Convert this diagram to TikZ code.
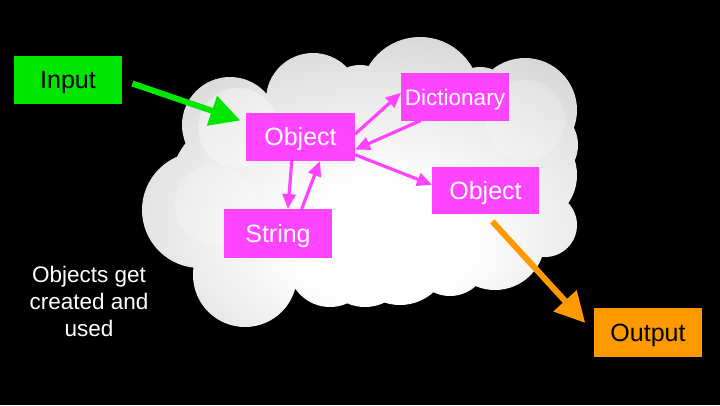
\documentclass[tikz,border=0pt]{standalone}
\usepackage{fontspec}
\setmainfont{Liberation Sans}
\usetikzlibrary{arrows.meta}
\definecolor{inputgreen}{RGB}{0,230,0}
\definecolor{objpink}{RGB}{255,68,255}
\definecolor{outorange}{RGB}{255,153,0}
\pgfdeclareradialshading{cloudshade}{\pgfpoint{3bp}{-12bp}}{color(0bp)=(white); color(10bp)=(white); color(26bp)=(black!10); color(42bp)=(black!22); color(80bp)=(black!28)}
\tikzset{
	box/.style={minimum width=108pt, minimum height=48pt, inner sep=0pt, outer sep=0pt,
		text height=17.9pt, text depth=0pt, font=\fontsize{25}{30}\selectfont},
	objbox/.style={box, fill=objpink, text=white},
	pinkarrow/.style={draw=objpink, line width=3.2pt, -{Triangle[length=15pt,width=13pt]}},
	greenarrow/.style={draw=inputgreen, line width=6pt, -{Triangle[length=30pt,width=30pt]}},
	orangearrow/.style={draw=outorange, line width=6pt, -{Triangle[length=30pt,width=30pt]}},
}

\begin{document}
\begin{tikzpicture}[x=1pt,y=-1pt]
			%%%%% START %%%%%
			\fill[black] (0,0) rectangle (720,405);
			\useasboundingbox (0,0) rectangle (720,405);
			
			% cloud
			\shade[shading=cloudshade] (360,185) ellipse (190 and 105)
				(230,125) circle (48) (200,210) circle (58)
				(245,275) circle (52) (330,265) circle (42) (365,262) circle (45)
				(400,255) circle (50) (450,258) circle (38)
				(313,100) circle (47) (360,100) circle (35) (420,97) circle (60)
				(480,100) circle (33) (525,110) circle (52) (540,145) circle (38)
				(527,175) circle (50) (495,240) circle (50) (545,225) circle (32);
			\fill[white, opacity=0.35] (238,128) circle (40);
			\fill[white, opacity=0.2] (215,205) circle (40);
			\fill[white, opacity=0.2] (525,120) circle (40);
			
			\node[box, fill=inputgreen, text=black] (input) at (68,80) {Input};
			\node[objbox, minimum width=109pt] (obj1) at (300.5,137) {Object};
			\node[objbox, font=\fontsize{22.5}{27}\selectfont] (dict) at (455,96.5) {Dictionary};
			\node[objbox, minimum width=107pt, minimum height=47pt] (obj2) at (485.5,190.5) {Object};
			\node[objbox, minimum height=49pt] (string) at (278,233.5) {String};
			\node[box, fill=outorange, text=black, minimum height=49pt] (output) at (648,332.5) {Output};
			
			\node[text=white, align=center, font=\fontsize{22.5}{27}\selectfont] (note) at (89,301)
				{Objects get\\created and\\used};
			
			\draw[greenarrow, shorten <=11pt, shorten >=6pt] (input.east) -- (obj1.165);
			\draw[pinkarrow] (obj1.3) -- (dict.176);
			\draw[pinkarrow] (dict.215) -- (obj1.347);
			\draw[pinkarrow] (obj1.342) -- (obj2.174);
			\draw[pinkarrow] (obj1.250) -- (string.68);
			\draw[pinkarrow] (string.46) -- (obj1.309);
			\draw[orangearrow, shorten <=10pt, shorten >=13pt] (obj2.south) -- (output.west);
			%%%%% END %%%%%
\end{tikzpicture}
\end{document}
